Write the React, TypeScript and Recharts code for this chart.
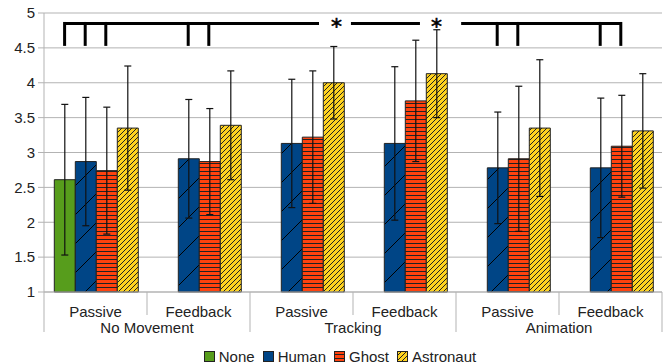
import {
  Bar,
  BarChart,
  CartesianGrid,
  ErrorBar,
  Legend,
  ReferenceDot,
  ReferenceLine,
  XAxis,
  YAxis,
} from "recharts";

// categories
const conditions = ["Passive", "Feedback", "Passive", "Feedback", "Passive", "Feedback"];
const groups = ["No Movement", "No Movement", "Tracking", "Tracking", "Animation", "Animation"];

// means and error (+/-) per series
const noneMean = [2.61, null, null, null, null, null];
const noneErr = [1.08, null, null, null, null, null];
const humanMean = [2.87, 2.91, 3.13, 3.13, 2.78, 2.78];
const humanErr = [0.92, 0.85, 0.92, 1.1, 0.8, 1.0];
const ghostMean = [2.74, 2.87, 3.22, 3.74, 2.91, 3.09];
const ghostErr = [0.91, 0.76, 0.95, 0.87, 1.04, 0.73];
const astroMean = [3.35, 3.39, 4.0, 4.13, 3.35, 3.31];
const astroErr = [0.89, 0.78, 0.52, 0.63, 0.98, 0.82];

const yTicks = [1, 1.5, 2, 2.5, 3, 3.5, 4, 4.5, 5];

// significance brackets, in group units (0..6) and y values
const bracketTicks = [0.2, 0.4, 0.6, 1.4, 1.6, 4.4, 4.6, 5.4, 5.6];
const bracketSpans = [
  [0.2, 2.67],
  [2.98, 3.65],
  [4.05, 5.6],
];
const starsAt = [2.84, 3.81];
const bracketTop = 4.85;
const bracketBottom = 4.55;

const series = [
  { key: "none", name: "None", fill: "#579d1c" },
  { key: "human", name: "Human", fill: "url(#patHuman)" },
  { key: "ghost", name: "Ghost", fill: "url(#patGhost)" },
  { key: "astro", name: "Astronaut", fill: "url(#patAstro)" },
];

const data = conditions.map((c, i) => ({
  condition: c,
  gx: i + 0.5,
  none: noneMean[i],
  noneErr: noneErr[i],
  human: humanMean[i],
  humanErr: humanErr[i],
  ghost: ghostMean[i],
  ghostErr: ghostErr[i],
  astro: astroMean[i],
  astroErr: astroErr[i],
}));

const W = 666;
const H = 364;
const LEFT = 44;
const RIGHT = 4;
const BAND = (W - LEFT - RIGHT) / conditions.length;
const FONT = "'Liberation Sans', Arial, sans-serif";
const GRID = "#b3b3b3";
const TEXT = "#222";

function CategoryTick(props: any) {
  const { x, y, index, payload } = props;
  const endOfGroup = index % 2 === 1;
  return (
    <g>
      <text x={x} y={y + 25} textAnchor="middle" fontSize={15} fill={TEXT} fontFamily={FONT}>
        {payload.value}
      </text>
      {endOfGroup && (
        <text x={x - BAND / 2} y={y + 41} textAnchor="middle" fontSize={15} fill={TEXT} fontFamily={FONT}>
          {groups[index]}
        </text>
      )}
      {index === 0 && <line x1={x - BAND / 2} x2={x - BAND / 2} y1={y} y2={y + 40} stroke={GRID} />}
      <line
        x1={x + BAND / 2}
        x2={x + BAND / 2}
        y1={y}
        y2={y + (endOfGroup ? 40 : 23)}
        stroke={GRID}
      />
    </g>
  );
}

function LegendContent() {
  return (
    <div
      style={{
        position: "relative",
        top: 4,
        display: "flex",
        justifyContent: "center",
        alignItems: "center",
        height: 20,
        paddingLeft: 22,
        fontFamily: FONT,
        fontSize: 15,
        color: TEXT,
      }}
    >
      {series.map((s) => (
        <span key={s.key} style={{ display: "inline-flex", alignItems: "center", marginRight: 8 }}>
          <svg width={11} height={11} style={{ display: "block" }}>
            <rect x={0.5} y={0.5} width={10} height={10} fill={s.fill} stroke="#222" />
          </svg>
          <span style={{ marginLeft: 4 }}>{s.name}</span>
        </span>
      ))}
    </div>
  );
}

function Star(props: any) {
  const { cx, cy } = props;
  return (
    <text
      x={cx}
      y={cy + 11}
      textAnchor="middle"
      fontSize={22}
      fontFamily="'DejaVu Sans', sans-serif"
      fill="#000"
      stroke="#000"
      strokeWidth={0.6}
    >
      *
    </text>
  );
}

export default function App() {
  return (
    <div style={{ position: "absolute", left: 0, top: 0, background: "#fff" }}>
      <BarChart
        width={W}
        height={H}
        data={data}
        margin={{ top: 13, right: RIGHT, left: 0, bottom: 2 }}
        barCategoryGap="10%"
        barGap={0}
      >
        <defs>
          <pattern id="patHuman" patternUnits="userSpaceOnUse" width={29} height={29}>
            <rect width={29} height={29} fill="#004586" />
            <path d="M0,29 L29,0 M-2,2 L2,-2 M27,31 L31,27" stroke="#000" strokeWidth={1} />
          </pattern>
          <pattern id="patGhost" patternUnits="userSpaceOnUse" width={4} height={4}>
            <rect width={4} height={4} fill="#ff420e" />
            <path d="M0,3.5 L4,3.5" stroke="#222" strokeWidth={1} />
          </pattern>
          <pattern id="patAstro" patternUnits="userSpaceOnUse" width={5} height={5}>
            <rect width={5} height={5} fill="#ffd320" />
            <path d="M0,5 L5,0 M-1,1 L1,-1 M4,6 L6,4" stroke="#222" strokeWidth={1} />
          </pattern>
        </defs>
        <CartesianGrid vertical={false} stroke={GRID} />
        <XAxis
          dataKey="condition"
          height={50}
          tickSize={0}
          tickMargin={0}
          tickLine={false}
          axisLine={{ stroke: GRID }}
          tick={<CategoryTick />}
          interval={0}
        />
        <XAxis xAxisId="num" dataKey="gx" type="number" domain={[0, 6]} allowDataOverflow hide />
        <YAxis
          width={LEFT}
          domain={[1, 5]}
          ticks={yTicks}
          interval={0}
          tickSize={6}
          tickMargin={3}
          tickLine={{ stroke: GRID }}
          axisLine={{ stroke: GRID }}
          tick={{ fontSize: 15, fill: TEXT, fontFamily: FONT }}
        />
        <YAxis yAxisId="r" orientation="right" width={0} tick={false} tickLine={false} axisLine={{ stroke: GRID }} />
        <Legend verticalAlign="bottom" height={20} content={<LegendContent />} wrapperStyle={{ left: 0, width: W }} />
        {series.map((s) => (
          <Bar
            key={s.key}
            dataKey={s.key}
            name={s.name}
            fill={s.fill}
            stroke="#222"
            strokeWidth={1}
            isAnimationActive={false}
          >
            <ErrorBar dataKey={`${s.key}Err`} width={3.5} stroke="#111" strokeWidth={1.2} />
          </Bar>
        ))}
        {bracketSpans.map(([a, b], i) => (
          <ReferenceLine
            key={`span${i}`}
            xAxisId="num"
            segment={[
              { x: a, y: bracketTop },
              { x: b, y: bracketTop },
            ]}
            stroke="#000"
            strokeWidth={3}
          />
        ))}
        {bracketTicks.map((t) => (
          <ReferenceLine
            key={`tick${t}`}
            xAxisId="num"
            segment={[
              { x: t, y: bracketBottom },
              { x: t, y: bracketTop },
            ]}
            stroke="#000"
            strokeWidth={3}
            strokeLinecap="square"
          />
        ))}
        {starsAt.map((s) => (
          <ReferenceDot key={`star${s}`} xAxisId="num" x={s} y={bracketTop} r={0} shape={<Star />} />
        ))}
      </BarChart>
    </div>
  );
}
